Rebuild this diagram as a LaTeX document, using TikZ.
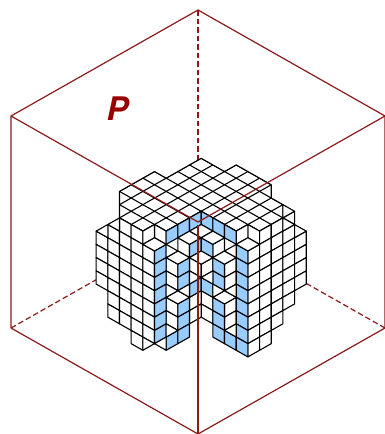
\documentclass[tikz,border=0pt]{standalone}
\usepackage{xcolor}
\usepackage{fontspec}
\setsansfont{TeX Gyre Heros}
\usepackage{tikz}
\definecolor{edgered}{HTML}{8B1A1A}
\definecolor{labelred}{HTML}{990000}
\definecolor{cutblue}{HTML}{99CCFF}
\tikzset{
  skin/.style={draw=black,fill=white,line width=1.1pt,line join=round},
  cutface/.style={skin,fill=cutblue},
  frontedge/.style={draw=edgered,line width=1.2pt},
  backedge/.style={frontedge,dash pattern=on 5.5pt off 3pt}
}
\newcommand{\tface}[2]{\path[skin] (#1,#2) -- ++(1,-1) -- ++(1,1) -- ++(-1,1) -- cycle;}
\newcommand{\lface}[3][skin]{\path[#1] (#2,#3) -- ++(1,1) -- ++(0,2) -- ++(-1,-1) -- cycle;}
\newcommand{\rface}[3][skin]{\path[#1] (#2,#3) -- ++(1,-1) -- ++(0,2) -- ++(-1,1) -- cycle;}
\newcommand{\ltri}[2]{\path[skin] (#1,#2) -- ++(1,-1) -- ++(0,2) -- cycle;}
\newcommand{\rtri}[2]{\path[skin] (#1,#2) ++(1,-1) -- ++(1,1) -- ++(-1,1) -- cycle;}
\begin{document}
\begin{tikzpicture}[x=1pt,y=-1pt]
\useasboundingbox (0,0) rectangle (385,434);
\coordinate (top) at (198,10);
\coordinate (lefttop) at (11,116);
\coordinate (righttop) at (385,116);
\coordinate (mid) at (198,222);
\coordinate (midlow) at (198,225);
\coordinate (leftlow) at (11,328);
\coordinate (rightlow) at (385,328);
\coordinate (bottom) at (198,434);
\draw[backedge] (top) -- (mid);
\draw[backedge] (leftlow) -- (mid);
\draw[backedge] (rightlow) -- (mid);
\begin{scope}[shift={(201.2,158.3)},x=11.67pt,y=-6.62pt]
\fill[white] (-7,5) -- (-4,2) -- (-3,3) -- (0,0) -- (2,2) -- (3,1) -- (6,4) -- (6,6) -- (7,7) -- (7,9) -- (6,10) -- (5,11) -- (4,10) -- (3,11) -- (0,8) -- (-3,11) -- (-4,10) -- (-5,11) -- (-6,10) -- (-7,9) -- cycle;
\begin{scope}
\clip (-7,5) -- (-4,2) -- (-3,3) -- (0,0) -- (2,2) -- (3,1) -- (6,4) -- (6,6) -- (7,7) -- (7,9) -- (6,10) -- (5,11) -- (4,10) -- (3,11) -- (0,8) -- (-3,11) -- (-4,10) -- (-5,11) -- (-6,10) -- (-7,9) -- cycle;
\foreach \c in {-10,-8,...,22}{
  \draw[line width=1.1pt] (-10,\c+10) -- (10,\c-10);
  \draw[line width=1.1pt] (-10,\c-10) -- (10,\c+10);
}
\end{scope}
\draw[line width=1.1pt,line join=round] (-7,5) -- (-4,2) -- (-3,3) -- (0,0) -- (2,2) -- (3,1) -- (6,4) -- (6,6) -- (7,7) -- (7,9) -- (6,10) -- (5,11) -- (4,10) -- (3,11) -- (0,8) -- (-3,11) -- (-4,10) -- (-5,11) -- (-6,10) -- (-7,9) -- cycle;
\foreach \k/\m in {-9/11,-9/13,-9/15,-9/17,-8/10,-8/12,-8/14,-8/16,-8/18,-8/20,-8/22,-7/9,-7/11,-7/13,-7/15,-7/17,-7/19,-7/21,-7/23,-6/10,-6/12,-6/14,-6/16,-6/18,-6/20,-6/22,-6/24,-6/26,-5/13,-5/15,-5/17,-5/19,-5/21,-5/23,-5/25,-4/10,-3/15,-3/17,-3/21,-3/23,-2/12,-1/15,0/20,0/22,4/10}{
  \lface{\k}{\m}
}
\foreach \k/\m in {-5/11,-1/21,-1/23,0/16,1/13,2/16,2/18,2/22,2/24,3/11,4/14,4/16,4/18,4/20,4/22,4/24,4/26,4/28,5/11,5/13,5/15,5/17,5/19,5/21,5/23,5/25,5/27,6/10,6/12,6/14,6/16,6/18,6/20,6/22,6/24,7/11,7/13,7/15,7/17,7/19,7/21,8/12,8/14,8/16,8/18}{
  \rface{\k}{\m}
}
\foreach \k/\m in {-4/14,-4/16,-4/18,-4/20,-4/22,-4/24,-4/26,-3/11,-3/27,-2/10,-2/16,-2/18,-2/22,-2/24,-2/26,-1/9,-1/13,-1/19}{
  \rface[cutface]{\k}{\m}
}
\foreach \k/\m in {0/8,0/12,0/18,1/9,1/15,1/17,1/21,1/23,1/25,2/10,2/26,3/13,3/15,3/17,3/19,3/21,3/23,3/25,3/27}{
  \lface[cutface]{\k}{\m}
}
\foreach \k/\m in {-5/13,-3/15,-3/21,-2/12,-1/11,-1/15,0/12,1/15,1/21,3/13}{
  \tface{\k}{\m}
}
\foreach \k/\m in {-9/11,-8/10,-4/28,-2/20,0/18,2/14,2/20,2/26,7/9}{
  \ltri{\k}{\m}
}
\foreach \k/\m in {-6/28,-4/14,-4/20,-4/26,-2/18,0/20,6/8,6/10,7/11}{
  \rtri{\k}{\m}
}
\end{scope}
\draw[frontedge,line join=round] (top) -- (righttop) -- (mid) -- (lefttop) -- cycle;
\draw[frontedge,line join=round] (lefttop) -- (leftlow) -- (bottom) -- (rightlow) -- (righttop);
\draw[frontedge] (midlow) -- (bottom);
\node[text=labelred,font=\sffamily\bfseries\itshape\fontsize{32.5pt}{32.5pt}\selectfont,inner sep=0pt] (plabel) at (117.5,109) {P};
\end{tikzpicture}
\end{document}
